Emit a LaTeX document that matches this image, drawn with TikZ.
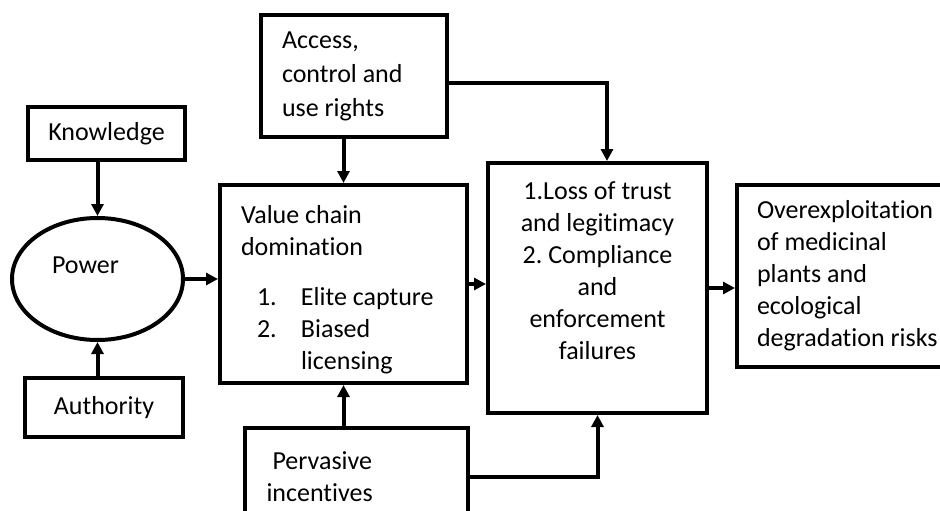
\documentclass[tikz,border=0pt]{standalone}
\usepackage{fontspec}
\setmainfont{Carlito}[Ligatures=NoCommon]
\usetikzlibrary{shapes.geometric, arrows.meta, positioning}

\begin{document}
\begin{tikzpicture}[x=1pt, y=-1pt, >={Triangle[length=12pt,width=12pt]}, font=\fontsize{26}{32}\selectfont\frenchspacing]
	\tikzstyle{blok} = [draw, line width=4pt, rectangle, inner sep=0pt]
	\tikzstyle{oval} = [draw, line width=4pt, ellipse, inner sep=0pt, minimum width=171pt, minimum height=122pt]
	\tikzstyle{link} = [->, line width=4pt]

	\useasboundingbox (0,0) rectangle (940,511);
	\clip (0,0) rectangle (940,511);

	% left column
	\node[blok, minimum width=157pt, minimum height=53pt] (know) at (106.5,133.5) {Knowledge};
	\node[oval, label={[xshift=-12pt, yshift=14pt]center:Power}] (power) at (97.5,279) {};
	\node[blok, minimum width=158pt, minimum height=59pt] (auth) at (104,407.5) {Authority};

	% middle column
	\node[blok, minimum width=186pt, minimum height=122pt] (access) at (354,76)
		{\parbox{144pt}{\raggedright Access,\\[2pt]control and\\[2pt]use rights}};
	\node[blok, minimum width=247pt, minimum height=198pt] (value) at (343.5,284)
		{\parbox[c][198pt][t]{205pt}{\raggedright\vspace*{20pt}Value chain\\domination\\[18pt]
		\hspace*{16pt}\makebox[44pt][l]{1.}Elite capture\\
		\hspace*{16pt}\makebox[44pt][l]{2.}Biased\\
		\hspace*{60pt}licensing}};
	\node[blok, minimum width=223pt, minimum height=98pt] (perv) at (356.5,477)
		{\parbox{180pt}{\raggedright\hspace*{6pt}Pervasive\\incentives}};

	% right column
	\node[blok, minimum width=219pt, minimum height=250pt] (loss) at (597.5,288)
		{\parbox[c][250pt][t]{210pt}{\centering\vspace*{19pt}1.Loss of trust\\and legitimacy\\2. Compliance\\and\\enforcement\\failures}};
	\node[blok, minimum width=225pt, minimum height=182pt] (over) at (849.5,276)
		{\parbox{185pt}{\raggedright Overexploitation\\of medicinal\\plants and\\ecological\\degradation risks}};

	% connectors
	\draw[link] (power.north |- know.south) -- (power.north);
	\draw[link] (power.south |- auth.north) -- (power.south);
	\draw[link] (power.east) -- (power.east -| value.west);
	\draw[link] (value.north |- access.south) -- (value.north);
	\draw[link] (value.south |- perv.north) -- (value.south);
	\draw[link] (value.east) -- (value.east -| loss.west);
	\draw[link] ([yshift=-7pt]access.east) -| ([xshift=9.5pt]loss.north);
	\draw[link] (perv.east) -| (loss.south);
	\draw[link] (loss.east) -- (loss.east -| over.west);
\end{tikzpicture}
\end{document}
